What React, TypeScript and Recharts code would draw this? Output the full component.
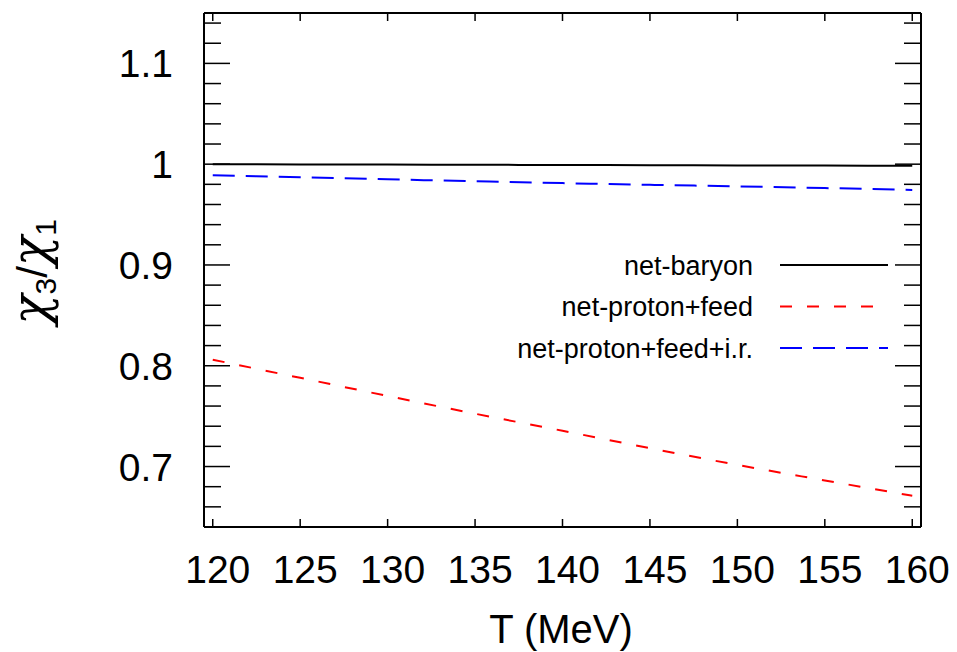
import { Line, LineChart, XAxis, YAxis } from "recharts";

// T in MeV, ratios chi3/chi1 for each curve
const temperature = [120, 125, 130, 135, 140, 145, 150, 155, 160];
const netBaryon = [1.0, 0.9998, 0.9996, 0.9994, 0.9992, 0.999, 0.9988, 0.9986, 0.9985];
const netProtonFeed = [0.806, 0.788, 0.77, 0.7524, 0.7355, 0.7182, 0.7016, 0.6862, 0.671];
const netProtonFeedIr = [0.989, 0.987, 0.985, 0.983, 0.9812, 0.9795, 0.978, 0.9763, 0.9745];

const xTicks = [120, 125, 130, 135, 140, 145, 150, 155, 160];
const yTicks = [
  0.66, 0.68, 0.7, 0.72, 0.74, 0.76, 0.78, 0.8, 0.82, 0.84, 0.86, 0.88, 0.9,
  0.92, 0.94, 0.96, 0.98, 1, 1.02, 1.04, 1.06, 1.08, 1.1, 1.12, 1.14,
];
const yMajorTicks = [0.7, 0.8, 0.9, 1, 1.1];

const SERIES = [
  { key: "baryon", name: "net-baryon", color: "#000000", dash: undefined },
  { key: "proton", name: "net-proton+feed", color: "#ff0000", dash: "12 15" },
  { key: "protonIr", name: "net-proton+feed+i.r.", color: "#0000ff", dash: "22 11" },
];

const chartData = temperature.map((t, i) => ({
  t,
  baryon: netBaryon[i],
  proton: netProtonFeed[i],
  protonIr: netProtonFeedIr[i],
}));

const FONT = "'Liberation Sans', Arial, Helvetica, sans-serif";
const GREEK = "'DejaVu Serif', 'Liberation Serif', serif";
const X_DOMAIN = [119.5, 160.5];
const Y_DOMAIN = [0.64, 1.15];

const isMajor = (v: number) => yMajorTicks.some((m) => Math.abs(m - v) < 1e-6);

function BottomTick({ x, y, payload }: any) {
  return (
    <g>
      <line x1={x} y1={y} x2={x} y2={y - 8} stroke="#000" strokeWidth={1.5} />
      <text x={x + 5} y={y + 56} textAnchor="middle" fontSize={39} fontFamily={FONT} fill="#000">
        {payload.value}
      </text>
    </g>
  );
}

function TopTick({ x, y }: any) {
  return <line x1={x} y1={y} x2={x} y2={y + 8} stroke="#000" strokeWidth={1.5} />;
}

function LeftTick({ x, y, payload }: any) {
  const major = isMajor(payload.value);
  return (
    <g>
      <line x1={x} y1={y} x2={x + (major ? 26 : 17)} y2={y} stroke="#000" strokeWidth={1.5} />
      {major ? (
        <text x={x - 31} y={y} dy="0.36em" textAnchor="end" fontSize={39} fontFamily={FONT} fill="#000">
          {payload.value}
        </text>
      ) : null}
    </g>
  );
}

function RightTick({ x, y, payload }: any) {
  const major = isMajor(payload.value);
  return <line x1={x} y1={y} x2={x - (major ? 26 : 17)} y2={y} stroke="#000" strokeWidth={1.5} />;
}

function Overlay() {
  return (
    <svg
      width={957}
      height={652}
      style={{ position: "absolute", left: 0, top: 0, pointerEvents: "none" }}
    >
      {SERIES.map((s, i) => {
        const y = 265 + i * 41.5;
        return (
          <g key={s.key}>
            <text x={753} y={y} dy="0.36em" textAnchor="end" fontSize={27} fontFamily={FONT} fill="#000">
              {s.name}
            </text>
            <line x1={780} y1={y} x2={888} y2={y} stroke={s.color} strokeWidth={2} strokeDasharray={s.dash} />
          </g>
        );
      })}
      <text x={561} y={643} textAnchor="middle" fontSize={40} fontFamily={FONT} fill="#000">
        T (MeV)
      </text>
      <text
        transform="translate(47,272) rotate(-90)"
        textAnchor="middle"
        fontSize={50}
        fontFamily={GREEK}
        fontStyle="italic"
        fill="#000"
      >
        χ
        <tspan dy={9} fontSize={30} fontStyle="normal" fontFamily={FONT}>3</tspan>
        <tspan dy={-9} fontSize={42} fontStyle="normal" fontFamily={FONT}>/</tspan>
        χ
        <tspan dy={9} fontSize={30} fontStyle="normal" fontFamily={FONT}>1</tspan>
      </text>
    </svg>
  );
}

export default function App() {
  return (
    <div style={{ position: "absolute", left: 0, top: 0, width: 957, height: 652, background: "#fff" }}>
      <LineChart
        width={957}
        height={652}
        data={chartData}
        margin={{ top: 12, right: 35, bottom: 0, left: 0 }}
      >
        <XAxis
          xAxisId="bottom"
          dataKey="t"
          type="number"
          domain={X_DOMAIN}
          ticks={xTicks}
          allowDataOverflow
          orientation="bottom"
          height={125}
          tickSize={0}
          tickMargin={0}
          tickLine={false}
          axisLine={{ stroke: "#000", strokeWidth: 2 }}
          tick={<BottomTick />}
          interval={0}
        />
        <XAxis
          xAxisId="top"
          dataKey="t"
          type="number"
          domain={X_DOMAIN}
          ticks={xTicks}
          allowDataOverflow
          orientation="top"
          height={1}
          tickSize={0}
          tickMargin={0}
          tickLine={false}
          axisLine={{ stroke: "#000", strokeWidth: 2 }}
          tick={<TopTick />}
          interval={0}
        />
        <YAxis
          yAxisId="left"
          type="number"
          domain={Y_DOMAIN}
          ticks={yTicks}
          allowDataOverflow
          orientation="left"
          width={204}
          tickSize={0}
          tickMargin={0}
          tickLine={false}
          axisLine={{ stroke: "#000", strokeWidth: 2 }}
          tick={<LeftTick />}
          interval={0}
        />
        <YAxis
          yAxisId="right"
          type="number"
          domain={Y_DOMAIN}
          ticks={yTicks}
          allowDataOverflow
          orientation="right"
          width={1}
          tickSize={0}
          tickMargin={0}
          tickLine={false}
          axisLine={{ stroke: "#000", strokeWidth: 2 }}
          tick={<RightTick />}
          interval={0}
        />
        {SERIES.map((s) => (
          <Line
            key={s.key}
            xAxisId="bottom"
            yAxisId="left"
            dataKey={s.key}
            name={s.name}
            type="monotone"
            stroke={s.color}
            strokeWidth={2}
            strokeDasharray={s.dash}
            dot={false}
            activeDot={false}
            isAnimationActive={false}
          />
        ))}
        {/* binds the top/right frame axes so they get drawn */}
        <Line
          xAxisId="top"
          yAxisId="right"
          dataKey="baryon"
          stroke="none"
          legendType="none"
          dot={false}
          activeDot={false}
          isAnimationActive={false}
        />
      </LineChart>
      <Overlay />
    </div>
  );
}
